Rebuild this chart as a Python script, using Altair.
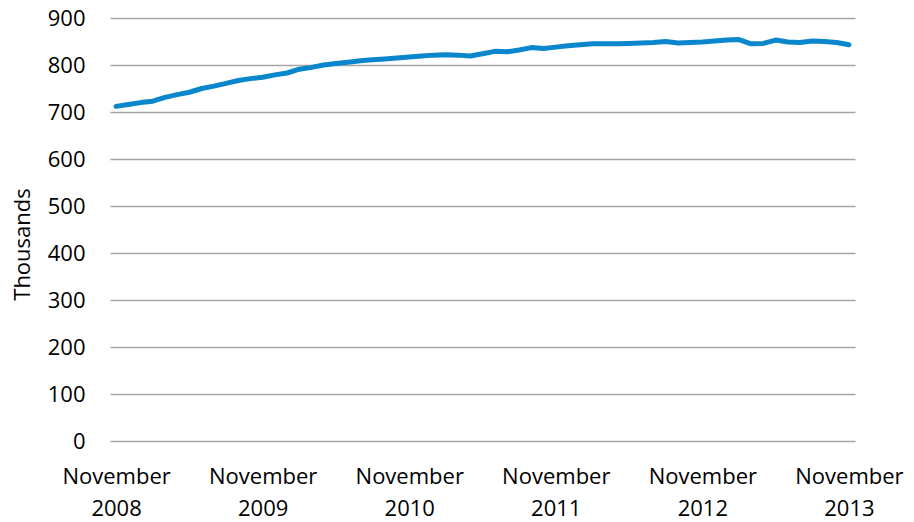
import altair as alt
import pandas as pd

start_year = 2008
values = [712, 716, 720, 723, 731, 737, 742, 750, 755, 761,
          767, 771, 774, 779, 783, 791, 795, 800, 803, 806,
          809, 811, 813, 815, 817, 819, 821, 822, 821, 819,
          824, 829, 828, 832, 837, 835, 838, 841, 843, 845,
          845, 845, 846, 847, 848, 850, 847, 848, 849, 851,
          853, 854, 845, 846, 853, 849, 848, 851, 850, 848,
          843]
tick_months = [0, 12, 24, 36, 48, 60]
y_ticks = [0, 100, 200, 300, 400, 500, 600, 700, 800, 900]

df = pd.DataFrame({"i": list(range(len(values))), "v": values})

FONT = "Open Sans"
FS = 22

chart = alt.Chart(df).mark_line(color="#0a87cc", strokeWidth=5, strokeJoin="round", strokeCap="round").encode(
    x=alt.X("i:Q", scale=alt.Scale(domain=[-0.5, 60.5], nice=False, zero=False),
            axis=alt.Axis(values=tick_months, grid=False, ticks=False, domain=False,
                          labelExpr="['November', toString(%d + floor(datum.value/12))]" % start_year,
                          labelFontSize=FS, labelFont=FONT, labelColor="#000000",
                          labelPadding=25, labelLineHeight=32, labelAngle=0,
                          labelBaseline="top", labelFlush=False, labelOverlap=False, title=None)),
    y=alt.Y("v:Q", scale=alt.Scale(domain=[0, 900], nice=False),
            axis=alt.Axis(values=y_ticks, grid=True, gridColor="#a6a6a6", gridWidth=1.5,
                          ticks=False, domain=False, labelFontSize=FS, labelFont=FONT,
                          labelColor="#000000", labelPadding=25, title="Thousands",
                          titleFontSize=FS, titleFont=FONT, titleFontWeight="normal",
                          titleColor="#000000", titleX=-88, titleY=226, titleAngle=-90,
                          titleAlign="center", titleBaseline="middle")),
).properties(
    width=745, height=423,
    background="white",
    autosize=alt.AutoSizeParams(type="none"),
    padding={"left": 110, "top": 18, "right": 59, "bottom": 81},
).configure_view(stroke=None)

chart.save("out.html", embed_options={"renderer": "svg", "actions": False})
